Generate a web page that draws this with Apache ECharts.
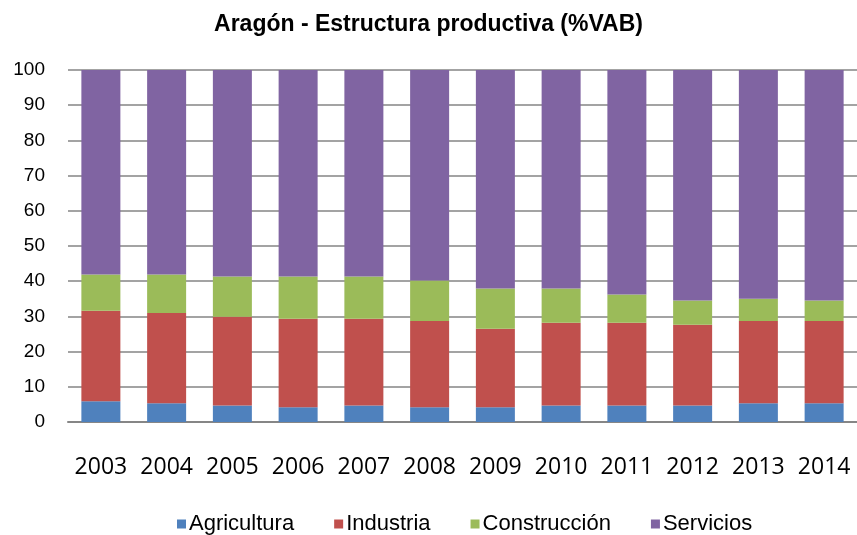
<!DOCTYPE html>
<html>
  <head>
    <meta charset="UTF-8" />
    <title>Aragón - Estructura productiva</title>
    <script src="https://cdn.jsdelivr.net/npm/echarts@6.0.0/dist/echarts.min.js"></script>
    <style>
      html, body { margin: 0; padding: 0; background: #fff; }
    </style>
  </head>
  <body>
    <div id="chart" style="width: 857px; height: 535px"></div>
  </body>
  <script>
// años
let years = ['2003', '2004', '2005', '2006', '2007', '2008', '2009', '2010', '2011', '2012', '2013', '2014'];

// % del VAB por sector
let agricultura  = [5.9, 5.3, 4.7, 4.2, 4.7, 4.2, 4.2, 4.7, 4.7, 4.7, 5.3, 5.3];
let industria    = [25.7, 25.7, 25.2, 25.1, 24.6, 24.5, 22.3, 23.5, 23.5, 22.9, 23.4, 23.4];
let construccion = [10.3, 10.9, 11.4, 12.0, 12.0, 11.5, 11.4, 9.7, 8.0, 6.9, 6.3, 5.8];
let servicios    = [58.1, 58.1, 58.7, 58.7, 58.7, 59.8, 62.1, 62.1, 63.8, 65.5, 65.0, 65.5];

let seriesNames = ['Agricultura', 'Industria', 'Construcción', 'Servicios'];
let seriesData = [agricultura, industria, construccion, servicios];
let colors = ['#4F81BD', '#C0504D', '#9BBB59', '#8064A2'];

let myChart = echarts.init(document.getElementById('chart'));

myChart.setOption({
    animation: false,
    title: {
        text: 'Aragón - Estructura productiva (%VAB)',
        left: 'center',
        top: 8,
        textStyle: {
            fontFamily: 'Liberation Sans',
            fontSize: 23,
            fontWeight: 'bold',
            color: '#000'
        }
    },
    legend: {
        data: seriesNames,
        bottom: 0,
        left: 177,
        padding: 0,
        itemWidth: 9,
        itemHeight: 9,
        itemGap: 40,
        icon: 'rect',
        textStyle: {
            fontFamily: 'Liberation Sans',
            fontSize: 22,
            color: '#000',
            padding: [0, 0, 0, -2]
        }
    },
    grid: {
        left: 68,
        right: -10,
        top: 70,
        bottom: 113,
        containLabel: false
    },
    xAxis: {
        type: 'category',
        data: years,
        axisTick: { show: false },
        axisLine: { lineStyle: { color: '#868686', width: 2 } },
        axisLabel: {
            interval: 0,
            fontFamily: 'Open Sans',
            fontSize: 23,
            color: '#000',
            margin: 34
        }
    },
    yAxis: {
        type: 'value',
        min: 0,
        max: 100,
        interval: 10,
        axisLine: { show: false },
        axisTick: { show: false },
        axisLabel: {
            fontFamily: 'Liberation Sans',
            fontSize: 19,
            color: '#000',
            margin: 23
        },
        splitLine: { lineStyle: { color: '#a3a3a3', width: 2 } }
    },
    series: seriesData.map((d, i) => ({
        name: seriesNames[i],
        type: 'bar',
        stack: 'vab',
        data: d,
        barWidth: 39,
        itemStyle: { color: colors[i] }
    }))
});
  </script>
</html>
